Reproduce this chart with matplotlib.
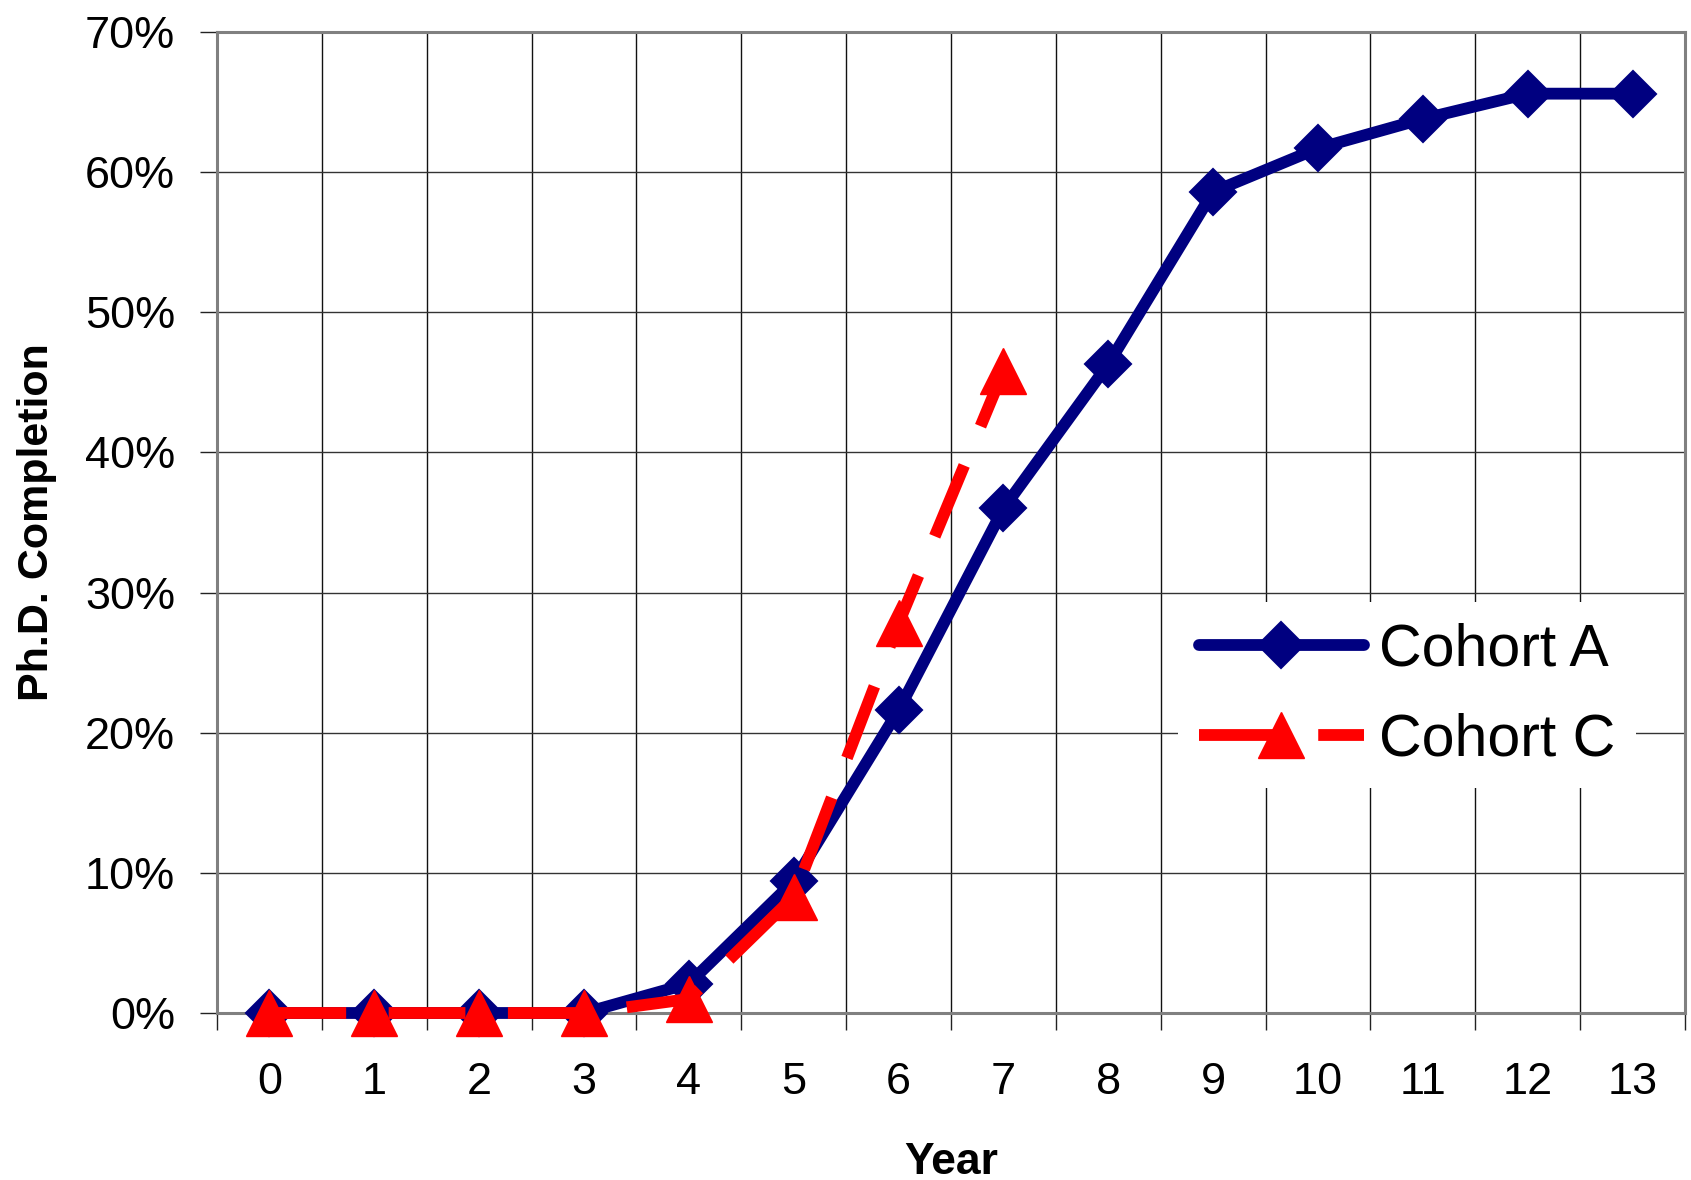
import numpy as np
import matplotlib
matplotlib.use("Agg")
import matplotlib.pyplot as plt
from matplotlib.ticker import FixedLocator, PercentFormatter

plt.rcParams['font.family'] = ['Liberation Sans', 'DejaVu Sans']

# 数据（从图上读出来的）
years = [0, 1, 2, 3, 4, 5, 6, 7, 8, 9, 10, 11, 12, 13]
cohort_a = [0.0, 0.0, 0.0, 0.0, 2.1, 9.4, 21.6, 36.0, 46.3, 58.6, 61.7, 63.8, 65.6, 65.6]
years_c = [0, 1, 2, 3, 4, 5, 6, 7]
cohort_c = [0.0, 0.0, 0.0, 0.0, 1.0, 8.3, 27.8, 45.8]
yticks = [0, 10, 20, 30, 40, 50, 60, 70]

fig = plt.figure(figsize=(16.91, 11.8), dpi=100)
ax = fig.add_axes([217/1691, 1 - 1013/1180, (1685-217)/1691, (1013-32)/1180])

ax.plot(years, cohort_a, color='#000080', lw=8.5, marker='D', ms=23,
        mec='#000080', mew=1.5, solid_capstyle='round', solid_joinstyle='round',
        label='Cohort A', clip_on=False, zorder=3)
ax.plot(years_c, cohort_c, color='#FF0000', lw=8.5, ls=(0, (6.5, 3.6)),
        marker='^', ms=33, mec='#FF0000', mew=1,
        dash_capstyle='butt', label='Cohort C', clip_on=False, zorder=4)

ax.set_xlim(-0.5, 13.5)
ax.set_ylim(0, 70)

# 类别之间的分隔线和刻度
ax.xaxis.set_major_locator(FixedLocator(years))
ax.xaxis.set_minor_locator(FixedLocator(np.arange(-0.5, 14, 1)))
ax.set_yticks(yticks)
ax.yaxis.set_major_formatter(PercentFormatter(decimals=0))
ax.tick_params(axis='x', which='major', length=0, pad=35, labelsize=32.5)
ax.tick_params(axis='x', which='minor', length=12, width=1, color='#222222')
ax.tick_params(axis='y', which='major', length=12, width=1, color='#222222',
               pad=18, labelsize=32.5)
ax.grid(True, axis='x', which='minor', color='#111111', lw=1, zorder=0)
ax.grid(True, axis='y', which='major', color='#333333', lw=1, zorder=0)
ax.grid(False, axis='x', which='major')

for s in ax.spines.values():
    s.set_color('#808080')
    s.set_linewidth(2.2)

ax.set_xlabel('Year', fontsize=32, fontweight='bold', labelpad=28)
ax.set_ylabel('Ph.D. Completion', fontsize=31, fontweight='bold', labelpad=20)

leg = ax.legend(loc='center', bbox_to_anchor=(1407/1691, 1 - 695/1180),
                bbox_transform=fig.transFigure, fontsize=42.5, numpoints=1,
                handlelength=2.8, handletextpad=0.25, labelspacing=0.6,
                frameon=True, fancybox=False, borderpad=0.35)
leg.get_frame().set_edgecolor('none')
leg.get_frame().set_facecolor('white')
leg.get_frame().set_alpha(1)
leg.set_zorder(5)

fig.savefig('out.png', dpi=100)
